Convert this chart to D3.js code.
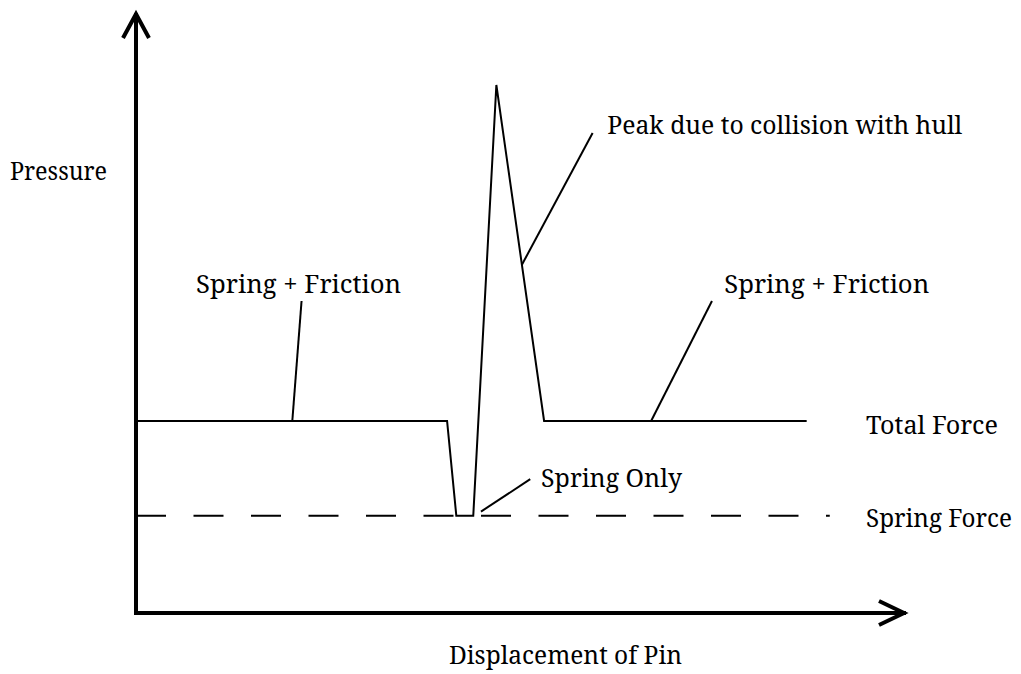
<!DOCTYPE html>
<html>
<head>
<meta charset="utf-8">
<script src="https://cdn.jsdelivr.net/npm/d3@7"></script>
<style>
  html, body { margin: 0; padding: 0; background: #fff; }
  svg { display: block; }
</style>
</head>
<body>
<div id="chart"></div>
<script>
// Schematic pressure vs pin displacement (arbitrary units, 0-100 on both axes)
const totalForceX = [0, 40.4, 41.6, 43.8, 46.8, 53, 87.1];
const totalForceY = [32, 32, 16.2, 16.2, 88, 32, 32];
const springForceX = [0, 90.1];
const springForceY = [16.2, 16.2];

// leader lines: [x1, y1, x2, y2] in data units
const leaders = [
  [21.5, 52, 20.3, 32],    // left spring + friction
  [74.8, 52, 66.9, 32],    // right spring + friction
  [59.3, 80, 50.1, 58],    // peak
  [51.2, 22.3, 44.8, 16.9] // spring only
];

// labels: text, x, y (data units for the baseline start), width in px
const labels = [
  { text: "Spring + Friction", x: 7.8, y: 53.3, w: 205 },
  { text: "Spring + Friction", x: 76.4, y: 53.3, w: 205 },
  { text: "Peak due to collision with hull", x: 61.2, y: 79.8, w: 355 },
  { text: "Spring Only", x: 52.6, y: 21, w: 141 },
  { text: "Total Force", x: 94.8, y: 29.8, w: 132 },
  { text: "Spring Force", x: 94.8, y: 14.4, w: 146 }
];

const width = 1021, height = 674;
const font = '"Noto Serif", "Liberation Serif", serif';

const x = d3.scaleLinear().domain([0, 100]).range([136, 906]);
const y = d3.scaleLinear().domain([0, 100]).range([613, 13]);

const svg = d3.select("#chart").append("svg")
    .attr("width", width)
    .attr("height", height);

const line = d3.line().x(d => x(d[0])).y(d => y(d[1]));

// spring force (dashed)
svg.append("path")
    .datum(d3.zip(springForceX, springForceY))
    .attr("fill", "none")
    .attr("stroke", "#000")
    .attr("stroke-width", 2)
    .attr("stroke-dasharray", "30 27.5")
    .attr("d", line);

// total force
svg.append("path")
    .datum(d3.zip(totalForceX, totalForceY))
    .attr("fill", "none")
    .attr("stroke", "#000")
    .attr("stroke-width", 2)
    .attr("stroke-linejoin", "miter")
    .attr("d", line);

// leaders
svg.append("g")
    .attr("stroke", "#000")
    .attr("stroke-width", 2)
    .selectAll("line")
    .data(leaders)
    .join("line")
    .attr("x1", d => x(d[0]))
    .attr("y1", d => y(d[1]))
    .attr("x2", d => x(d[2]))
    .attr("y2", d => y(d[3]));

// axes with open arrow heads
const axes = svg.append("g")
    .attr("fill", "none")
    .attr("stroke", "#000")
    .attr("stroke-width", 4)
    .attr("stroke-linecap", "butt");

axes.append("path")
    .attr("d", `M${x(0)},${y(0) + 2}V${y(100)}`);
axes.append("path")
    .attr("d", `M${x(0) - 2},${y(0)}H${x(100)}`);

axes.append("path")
    .attr("stroke-linejoin", "miter")
    .attr("d", `M${x(0) - 13},${y(100) + 25}L${x(0)},${y(100) + 1}L${x(0) + 13},${y(100) + 25}`);
axes.append("path")
    .attr("stroke-linejoin", "miter")
    .attr("d", `M${x(100) - 27},${y(0) - 12}L${x(100) - 2},${y(0)}L${x(100) - 27},${y(0) + 12}`);

// axis titles
svg.append("text")
    .attr("x", 10)
    .attr("y", 180)
    .style("font-family", font)
    .attr("font-size", 25)
    .attr("textLength", 97)
    .attr("lengthAdjust", "spacingAndGlyphs")
    .text("Pressure");

svg.append("text")
    .attr("x", 449)
    .attr("y", 664)
    .style("font-family", font)
    .attr("font-size", 25)
    .attr("textLength", 233)
    .attr("lengthAdjust", "spacingAndGlyphs")
    .text("Displacement of Pin");

// annotations
svg.append("g")
    .selectAll("text")
    .data(labels)
    .join("text")
    .attr("x", d => x(d.x))
    .attr("y", d => y(d.y))
    .style("font-family", font)
    .attr("font-size", 25)
    .attr("textLength", d => d.w)
    .attr("lengthAdjust", "spacingAndGlyphs")
    .text(d => d.text);
</script>
</body>
</html>
